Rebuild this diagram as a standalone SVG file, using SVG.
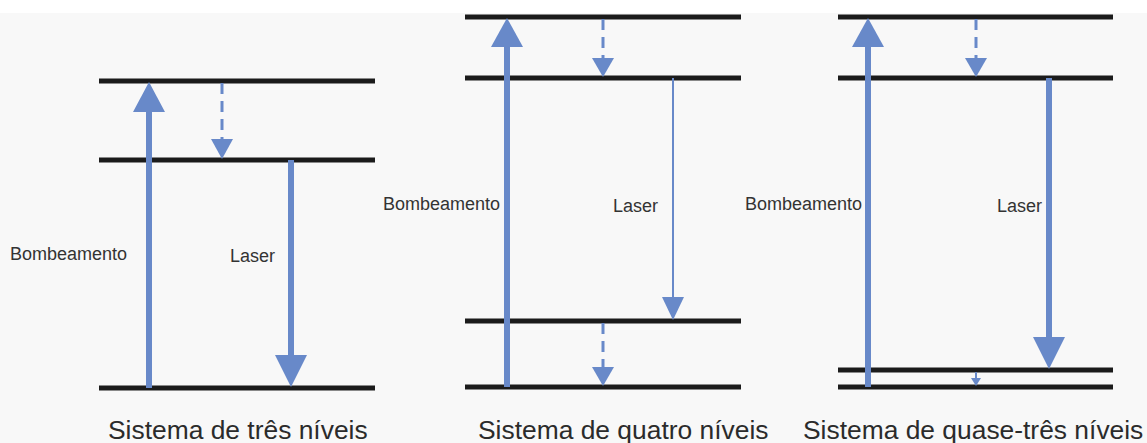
<svg xmlns="http://www.w3.org/2000/svg" width="1147" height="443" viewBox="0 0 1147 443">
<style>
.lvl{stroke:#1b1b1b;stroke-width:5;fill:none}
.sh{stroke:#6889c9;fill:none}
.hd{fill:#6889c9}
.lbl{font-family:"Liberation Sans",Arial,sans-serif;font-size:18px;fill:#333}
.ttl{font-family:"Liberation Sans",Arial,sans-serif;font-size:26.4px;fill:#2b2b2b}
</style>
<rect width="1147" height="443" fill="#f8f8f8"/>
<rect width="1147" height="13" fill="#ffffff"/>
<g id="levels">
<line class="lvl" x1="99" y1="81" x2="375" y2="81"/>
<line class="lvl" x1="99" y1="160" x2="375" y2="160"/>
<line class="lvl" x1="99" y1="388" x2="375" y2="388"/>
<line class="lvl" x1="465" y1="17" x2="741" y2="17"/>
<line class="lvl" x1="465" y1="78" x2="741" y2="78"/>
<line class="lvl" x1="465" y1="321" x2="741" y2="321"/>
<line class="lvl" x1="465" y1="387" x2="741" y2="387"/>
<line class="lvl" x1="838" y1="17" x2="1113" y2="17"/>
<line class="lvl" x1="838" y1="78" x2="1113" y2="78"/>
<line class="lvl" x1="838" y1="370" x2="1113" y2="370"/>
<line class="lvl" x1="838" y1="387" x2="1113" y2="387"/>
</g>
<g id="connectors">
<line class="sh" stroke-width="6" x1="149" y1="388" x2="149" y2="108"/>
<polygon class="hd" points="149,82 133,112 165,112"/>
<line class="sh" stroke-width="3" stroke-dasharray="11,7" x1="222" y1="83" x2="222" y2="140"/>
<polygon class="hd" points="222,159 211,139 233,139"/>
<line class="sh" stroke-width="6" x1="291" y1="160" x2="291" y2="358"/>
<polygon class="hd" points="291,387 275,355 307,355"/>
<line class="sh" stroke-width="6" x1="507" y1="387" x2="507" y2="44"/>
<polygon class="hd" points="507,18 491,47 523,47"/>
<line class="sh" stroke-width="3" stroke-dasharray="11,7" x1="603" y1="19" x2="603" y2="60"/>
<polygon class="hd" points="603,77 592,58 614,58"/>
<line class="sh" stroke-width="2" x1="673" y1="78" x2="673" y2="300"/>
<polygon class="hd" points="673,320 662,297 684,297"/>
<line class="sh" stroke-width="3" stroke-dasharray="11,7" x1="603" y1="323" x2="603" y2="369"/>
<polygon class="hd" points="603,386 592,367 614,367"/>
<line class="sh" stroke-width="6" x1="868" y1="387" x2="868" y2="44"/>
<polygon class="hd" points="868,18 852,47 884,47"/>
<line class="sh" stroke-width="3" stroke-dasharray="11,7" x1="976" y1="19" x2="976" y2="60"/>
<polygon class="hd" points="976,77 965,58 987,58"/>
<line class="sh" stroke-width="6" x1="1049" y1="78" x2="1049" y2="340"/>
<polygon class="hd" points="1049,369 1033,337 1065,337"/>
<line class="sh" stroke-width="2" x1="976" y1="372" x2="976" y2="380"/>
<polygon class="hd" points="976,386 971,378 981,378"/>
</g>
<g id="labels">
<text class="lbl" x="10" y="260">Bombeamento</text>
<text class="lbl" x="230" y="262">Laser</text>
<text class="lbl" x="383" y="210">Bombeamento</text>
<text class="lbl" x="613" y="212">Laser</text>
<text class="lbl" x="745" y="210">Bombeamento</text>
<text class="lbl" x="997" y="212">Laser</text>
</g>
<g id="titles">
<text class="ttl" x="108" y="439">Sistema de três níveis</text>
<text class="ttl" x="478" y="439">Sistema de quatro níveis</text>
<text class="ttl" x="803" y="439">Sistema de quase-três níveis</text>
</g>
</svg>
